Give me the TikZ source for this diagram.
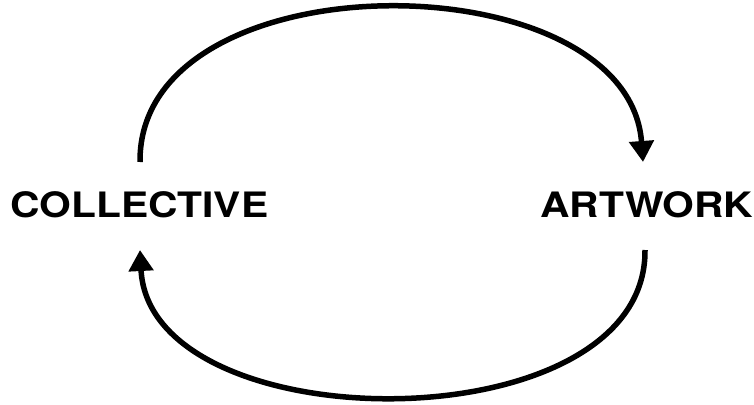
\documentclass[tikz,border=0pt]{standalone}
\usepackage{fontspec}
\newfontfamily\lblfont[FakeStretch=1.165]{TeX Gyre Heros}
\usetikzlibrary{arrows.meta}
\tikzset{
  lbl/.style={inner sep=0pt, font=\lblfont\bfseries\fontsize{35}{40}\selectfont, anchor=base west},
  loopline/.style={line width=5.5pt, -{Triangle[width=24pt,length=21pt]}}
}
\begin{document}
\begin{tikzpicture}[x=1pt,y=-1pt]
\useasboundingbox (0,0) rectangle (754,404);
\node[lbl] (col) at (10,217) {COLLECTIVE};
\node[lbl] (art) at (540,217) {ARTWORK};
\coordinate (a1) at (140,162);
\coordinate (a2) at (643,162);
\coordinate (b1) at (645,250);
\coordinate (b2) at (140,250);
\draw[loopline] (a1) .. controls (138,-44) and (628,-42) .. (a2);
\draw[loopline] (b1) .. controls (647,446) and (150,444) .. (b2);
\end{tikzpicture}
\end{document}
